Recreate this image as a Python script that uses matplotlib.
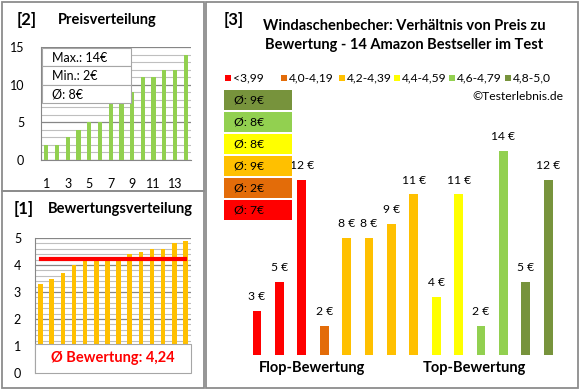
import numpy as np
import matplotlib
matplotlib.use('Agg')
import matplotlib.pyplot as plt
from matplotlib.patches import Rectangle

plt.rcParams['font.family'] = ['Lato', 'DejaVu Sans']

# data
price_sorted = [2, 2, 3, 4, 5, 5, 8, 8, 9, 11, 11, 12, 12, 14]
rating_sorted = [3.3, 3.5, 3.7, 4.0, 4.2, 4.2, 4.3, 4.3, 4.4, 4.5, 4.6, 4.6, 4.8, 4.9]
rating_avg = 4.24
prices = [3, 5, 12, 2, 8, 8, 9, 11, 4, 11, 2, 14, 5, 12]
price_groups = [0, 0, 0, 1, 2, 2, 2, 2, 3, 3, 4, 4, 5, 5]
group_labels = ['<3,99', '4,0-4,19', '4,2-4,39', '4,4-4,59', '4,6-4,79', '4,8-5,0']
group_colors = ['#FF0000', '#E36C09', '#FFC000', '#FFFF00', '#92D050', '#77933C']
group_avgs = [7, 2, 9, 8, 8, 9]

W, H = 580, 390
fig = plt.figure(figsize=(5.8, 3.9), dpi=100)


def px_axes(x0, y_top, x1, y_bot):
    return fig.add_axes([x0 / W, 1 - y_bot / H, (x1 - x0) / W, (y_bot - y_top) / H])


def fx(x):
    return x / W


def fy(y):
    return 1 - y / H


# panel borders
border = '#8C8C8C'
for (x0, y0, x1, y1) in [(2, 2, 204, 191), (2, 191, 204, 388), (206, 2, 578, 388)]:
    fig.patches.append(Rectangle((fx(x0), fy(y1)), fx(x1 - x0), (y1 - y0) / H,
                                 transform=fig.transFigure, fill=False,
                                 edgecolor=border, lw=1.3))

# ---- [2] Preisverteilung ----
fig.text(fx(17), fy(20), '[2]', fontsize=12, fontweight='bold', va='center')
fig.text(fx(58), fy(20), 'Preisverteilung', fontsize=10.5, fontweight='bold', va='center')

ax1 = px_axes(41, 47, 191, 160)
x = np.arange(1, len(price_sorted) + 1)
ax1.bar(x, price_sorted, width=0.4, color='#92D050', zorder=3)
ax1.set_xlim(0.5, 14.5)
ax1.set_ylim(0, 15)
ax1.set_yticks([0, 5, 10, 15])
ax1.set_yticks(range(0, 16), minor=True)
ax1.set_xticks(range(1, 15, 2))
ax1.grid(axis='y', which='minor', color='#BFBFBF', lw=0.8, zorder=0)
ax1.grid(axis='y', which='major', color='#868686', lw=0.9, zorder=0)
ax1.tick_params(axis='x', length=0, pad=13, labelsize=9)
ax1.tick_params(axis='y', length=0, pad=12, labelsize=9)
ax1.tick_params(which='minor', length=0)
for s in ['top', 'right']:
    ax1.spines[s].set_visible(False)
ax1.spines['left'].set_color('#868686')
ax1.spines['bottom'].set_color('#868686')

# info box
info = ['Max.: 14\u20ac', 'Min.: 2\u20ac', '\u00d8: 8\u20ac']
for i, t in enumerate(info):
    y0 = 48 + i * 18.3
    fig.patches.append(Rectangle((fx(42), fy(y0 + 18.3)), fx(89), 18.3 / H,
                                 transform=fig.transFigure, facecolor='white',
                                 edgecolor='#A6A6A6', lw=0.8, zorder=5))
    fig.text(fx(52), fy(y0 + 9.5), t, fontsize=9, va='center', zorder=6)

# ---- [1] Bewertungsverteilung ----
fig.text(fx(14), fy(209), '[1]', fontsize=12, fontweight='bold', va='center')
fig.text(fx(48), fy(209), 'Bewertungsverteilung', fontsize=10.5, fontweight='bold', va='center')

ax2 = px_axes(35, 238, 191, 373)
ax2.bar(x, rating_sorted, width=0.42, color='#FFC000', zorder=3)
ax2.plot([1, 14], [rating_avg, rating_avg], color='#FF0000', lw=3, zorder=4)
ax2.set_xlim(0.5, 14.5)
ax2.set_ylim(0, 5)
ax2.set_yticks(range(0, 6))
ax2.set_yticks(np.arange(0, 5.01, 0.2), minor=True)
ax2.set_xticks([])
ax2.grid(axis='y', which='minor', color='#BFBFBF', lw=0.8, zorder=0)
ax2.grid(axis='y', which='major', color='#868686', lw=0.9, zorder=0)
ax2.tick_params(axis='y', length=0, pad=10, labelsize=9)
ax2.tick_params(which='minor', length=0)
for s in ['top', 'right', 'bottom']:
    ax2.spines[s].set_visible(False)
ax2.spines['left'].set_color('#868686')
fig.patches.append(Rectangle((fx(35), fy(373)), fx(156), 29 / H,
                             transform=fig.transFigure, facecolor='white',
                             edgecolor='#A6A6A6', lw=0.8, zorder=5))
fig.text(fx(113), fy(358), '\u00d8 Bewertung: 4,24', fontsize=10.5, fontweight='bold',
         color='#FF0000', ha='center', va='center', zorder=6)

# ---- [3] Preis zu Bewertung ----
fig.text(fx(224), fy(20), '[3]', fontsize=12, fontweight='bold', va='center')
fig.text(fx(404), fy(26), 'Windaschenbecher: Verh\u00e4ltnis von Preis zu',
         fontsize=10.5, fontweight='bold', ha='center', va='center')
fig.text(fx(404), fy(45), 'Bewertung - 14 Amazon Bestseller im Test',
         fontsize=10.5, fontweight='bold', ha='center', va='center')

legend_x = [225, 281, 339, 394, 449, 505]
for lx, lab, col in zip(legend_x, group_labels, group_colors):
    fig.patches.append(Rectangle((fx(lx), fy(81)), fx(6), 6 / H,
                                 transform=fig.transFigure, facecolor=col, lw=0))
    fig.text(fx(lx + 8), fy(77.5), lab, fontsize=8.7, va='center')
fig.text(fx(563), fy(97), '\u00a9Testerlebnis.de', fontsize=8.7, ha='right', va='center')

# average boxes (top: best group)
for i, g in enumerate(range(5, -1, -1)):
    y0 = 90 + i * 22
    fig.patches.append(Rectangle((fx(224), fy(y0 + 20)), fx(68), 20 / H,
                                 transform=fig.transFigure, facecolor=group_colors[g], lw=0))
    fig.text(fx(234), fy(y0 + 10), '\u00d8: %d\u20ac' % group_avgs[g], fontsize=8.7, va='center')

ax3 = px_axes(245.8, 100, 559.4, 355)
cols = [group_colors[g] for g in price_groups]
ax3.bar(x, prices, width=0.4, color=cols)
ax3.set_xlim(0.5, 14.5)
ax3.set_ylim(0, 255 / 14.6)
for xi, p in zip(x, prices):
    ax3.text(xi, p + 0.6, '%d \u20ac' % p, ha='center', va='bottom', fontsize=8.7)
ax3.axis('off')
fig.text(fx(312), fy(368), 'Flop-Bewertung', fontsize=10.5, fontweight='bold', ha='center', va='center')
fig.text(fx(474), fy(368), 'Top-Bewertung', fontsize=10.5, fontweight='bold', ha='center', va='center')

fig.savefig('out.png', dpi=100)
